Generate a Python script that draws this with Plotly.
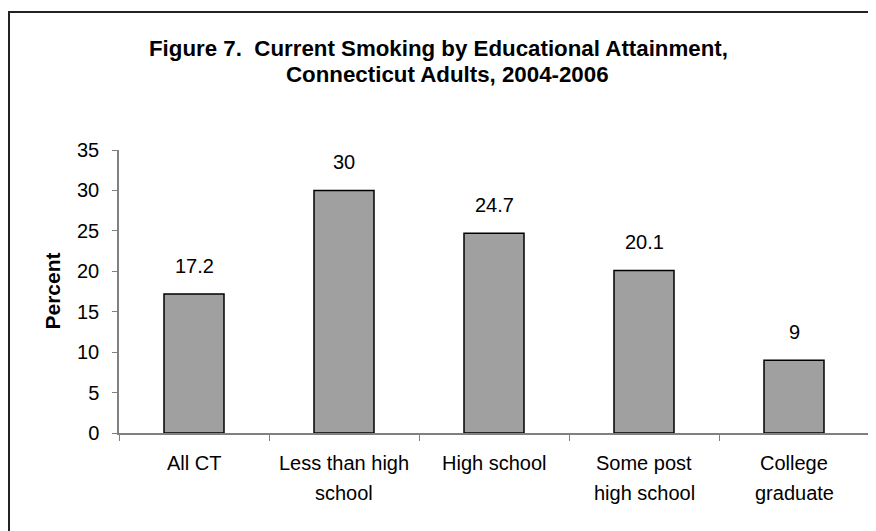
import plotly.graph_objects as go

categories = ["All CT", "Less than high school", "High school", "Some post high school", "College graduate"]
label_lines = [["All CT"], ["Less than high", "school"], ["High school"], ["Some post", "high school"], ["College", "graduate"]]
values = [17.2, 30, 24.7, 20.1, 9]
value_labels = ["17.2", "30", "24.7", "20.1", "9"]
y_ticks = [0, 5, 10, 15, 20, 25, 30, 35]

# page offset of the figure inside the browser (body margin)
OFF = 8
W, H = 876, 531
# target screen pixels of the plot area
SX0, SX1, SY0, SY1 = 119, 869, 150, 433
L, R, T, B = SX0 - OFF, W - (SX1 - OFF), SY0 - OFF, H - (SY1 - OFF)
plot_h = SY1 - SY0
plot_w = SX1 - SX0

def py(pix):
    return (SY1 - pix) / plot_h

def px(pix):
    return (pix - SX0) / plot_w

FONT = "Liberation Sans, Arial, sans-serif"

fig = go.Figure(go.Bar(
    x=categories, y=values,
    marker=dict(color="#A0A0A0", line=dict(color="black", width=1.5)),
    width=0.4,
    hoverinfo="skip",
))

ann = []
for c, v, t in zip(categories, values, value_labels):
    ann.append(dict(x=c, y=v, xref="x", yref="y", text=t, showarrow=False,
                    yanchor="bottom", yshift=15, font=dict(size=20, color="black", family=FONT)))
for c, lines in zip(categories, label_lines):
    for i, ln in enumerate(lines):
        ann.append(dict(x=c, y=0, xref="x", yref="y", text=ln, showarrow=False,
                        yanchor="middle", yshift=-30 - 30 * i,
                        font=dict(size=20, color="black", family=FONT)))
ann.append(dict(x=px(438), y=py(48), xref="paper", yref="paper",
                text="<b>Figure 7.\u00a0 Current Smoking by Educational Attainment,</b>",
                showarrow=False, xanchor="center", yanchor="middle",
                font=dict(size=22.3, color="black", family=FONT)))
ann.append(dict(x=px(447), y=py(75), xref="paper", yref="paper",
                text="<b>Connecticut Adults, 2004-2006</b>",
                showarrow=False, xanchor="center", yanchor="middle",
                font=dict(size=22.3, color="black", family=FONT)))
ann.append(dict(x=px(52), y=0.5, xref="paper", yref="paper", text="<b>Percent</b>",
                showarrow=False, textangle=-90, xanchor="center", yanchor="middle",
                font=dict(size=21, color="black", family=FONT)))

fig.update_layout(
    width=W, height=H,
    margin=dict(l=L, r=R, t=T, b=B, autoexpand=False),
    paper_bgcolor="white", plot_bgcolor="white",
    showlegend=False,
    annotations=ann,
    shapes=[dict(type="rect", xref="paper", yref="paper",
                 x0=px(9), x1=px(W + 40), y0=py(H + 40), y1=py(12),
                 line=dict(color="#222222", width=2), layer="below")],
    font=dict(family=FONT, color="black"),
)
fig.update_xaxes(
    type="category", range=[-0.5, 4.5],
    showticklabels=False, tickson="boundaries", ticks="outside", ticklen=6,
    tickcolor="#808080", showline=True, linecolor="#808080", linewidth=1.5,
    showgrid=False, zeroline=False, automargin=False,
)
fig.update_yaxes(
    range=[0, 35], tickvals=y_ticks, ticks="outside", ticklen=5,
    tickcolor="#808080", showline=True, linecolor="#808080", linewidth=1.5,
    showgrid=False, zeroline=False, automargin=False, ticklabelstandoff=9,
    tickfont=dict(size=20, color="black", family=FONT),
)

fig.write_html("out.html")
